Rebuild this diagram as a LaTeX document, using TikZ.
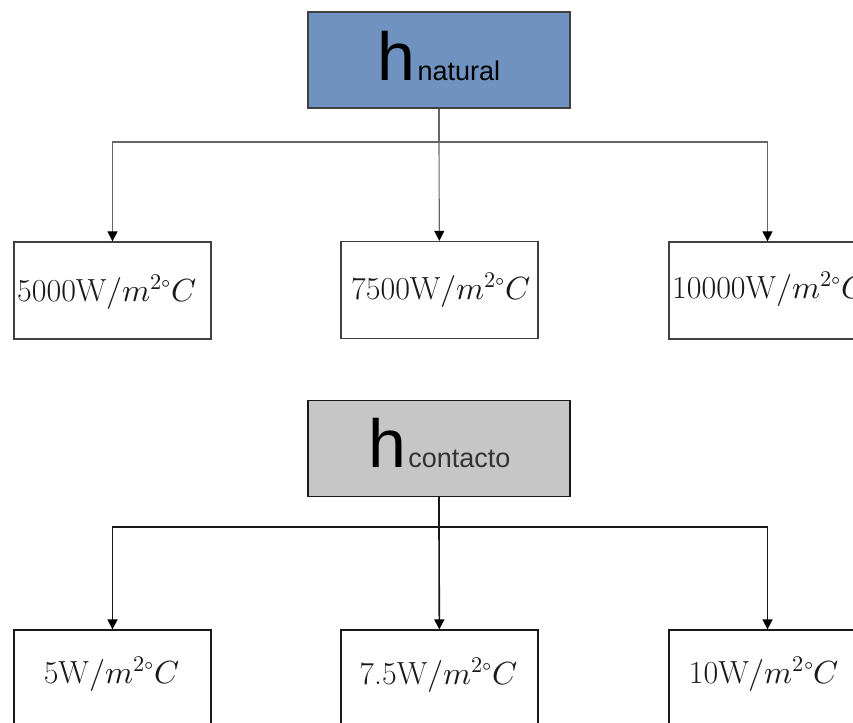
\documentclass[tikz,border=0pt]{standalone}
\usepackage{unicode-math}
\setmathfont{Latin Modern Math}
\newfontfamily\hfont{Liberation Sans}
\usetikzlibrary{arrows.meta}
\definecolor{topblue}{HTML}{6F92C0}
\definecolor{midgray}{HTML}{C6C6C6}
\begin{document}
\begin{tikzpicture}[x=1pt,y=-1pt,
  headbox/.style={draw=black!75, line width=1.3pt, minimum width=262pt, minimum height=96pt, inner sep=0pt},
  valbox/.style={draw=black!75, line width=1.3pt, minimum width=197pt, minimum height=97pt, inner sep=0pt},
  valtext/.style={inner sep=0pt, text=black!90, font=\fontsize{32}{32}\selectfont},
  headtext/.style={inner sep=0pt, anchor=base},
  conn/.style={draw=black!60, line width=1.1pt},
  arr/.style={conn, -{Triangle[width=10pt,length=10pt,color=black]}},
  connb/.style={draw=black!90, line width=1.6pt},
  arrb/.style={connb, -{Triangle[width=10pt,length=10pt,color=black]}}
]
\clip (0,0) rectangle (853,722);
\fill[white] (0,0) rectangle (853,722);

% ---- top group ----
\node[headbox, fill=topblue] (hn) at (439,60) {};
\node[headtext] (hnt) at (439,81) {\hfont\fontsize{68}{68}\selectfont h\fontsize{27}{27}\selectfont\hspace{2pt}natural};

\node[valbox] (b1) at (112.5,290.5) {};
\node[valbox] (b2) at (439.5,290) {};
\node[valbox] (b3) at (767.5,290.5) {};

\coordinate (j1) at (439,142);
\draw[conn] (hn) -- (j1);
\draw[arr] (j1) -| (b1);
\draw[arr] (j1) -- (b2);
\draw[arr] (j1) -| (b3);

\node[valtext, anchor=base west] (v1) at (17,301) {5000W$/m^{2\circ}C$};
\node[valtext, anchor=base] (v2) at (441,299) {7500W$/m^{2\circ}C$};
\node[valtext, anchor=base west] (v3) at (672,298) {10000W$/m^{2\circ}C$};

% ---- bottom group ----
\node[headbox, fill=midgray, draw=black!90] (hc) at (439,448.5) {};
\node[headtext] (hct) at (439.5,467) {\hfont\fontsize{68}{68}\selectfont h\fontsize{27}{27}\selectfont\hspace{2pt}\color{black!80}contacto};

\node[valbox, draw=black!90] (c1) at (112.5,678.5) {};
\node[valbox, draw=black!90] (c2) at (439.5,678.5) {};
\node[valbox, draw=black!90] (c3) at (767.5,678.5) {};

\coordinate (j2) at (439,527);
\draw[connb] (hc) -- (j2);
\draw[arrb] (j2) -| (c1);
\draw[arrb] (j2) -- (c2);
\draw[arrb] (j2) -| (c3);

\node[valtext, anchor=base] (w1) at (111.5,683) {5W$/m^{2\circ}C$};
\node[valtext, anchor=base] (w2) at (438.5,684) {7.5W$/m^{2\circ}C$};
\node[valtext, anchor=base] (w3) at (764,683) {10W$/m^{2\circ}C$};
\end{tikzpicture}
\end{document}
